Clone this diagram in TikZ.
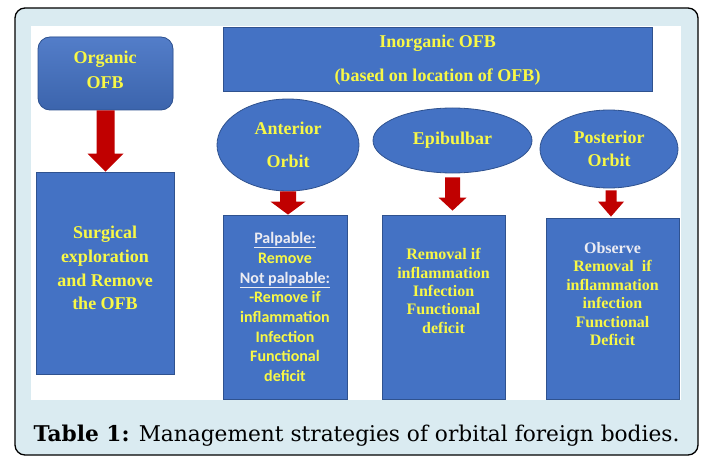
\documentclass[tikz,border=0pt]{standalone}
\usepackage{fontspec}
\setmainfont{Liberation Serif}
\newfontfamily\calibrifont{Carlito}
\newfontfamily\timesfont{Liberation Serif}
\newfontfamily\captionfont{DejaVu Serif}
\usetikzlibrary{shapes.geometric,calc}
\definecolor{boxblue}{HTML}{4472C4}
\definecolor{boxedge}{HTML}{2F528F}
\definecolor{txtyellow}{RGB}{248,248,70}
\definecolor{txtwhite}{RGB}{236,236,242}
\definecolor{framebg}{HTML}{DAEBF1}
\definecolor{arrowred}{HTML}{C00000}
\newcommand\blockarrow[5]{%
  \fill[arrowred] let \p1=(#1), \p2=(#2) in
  (\x1-#3pt,\y1) -- (\x1+#3pt,\y1) -- (\x1+#3pt,\y2+#5pt) -- (\x1+#4pt,\y2+#5pt)
  -- (\x1,\y2) -- (\x1-#4pt,\y2+#5pt) -- (\x1-#3pt,\y2+#5pt) -- cycle;}
\begin{document}
\begin{tikzpicture}[x=1pt,y=-1pt,
  bluebox/.style={draw=boxedge, line width=0.8pt, fill=boxblue, inner sep=0pt},
  blueoval/.style={ellipse, draw=boxedge, line width=0.8pt, fill=boxblue, inner sep=0pt,
    text=txtyellow, font=\timesfont\bfseries\fontsize{18}{23}\selectfont, align=center},
  boxtext/.style={text=txtyellow, align=center, inner sep=0pt},
]
\useasboundingbox (0,0) rectangle (703,457);
\draw[line width=1.3pt, fill=framebg, rounded corners=10pt] (15,8) rectangle (698,455);
\fill[white] (31,26) rectangle (681,400);

% left column
\node[bluebox, rounded corners=12pt, top color=boxblue!92!white, bottom color=boxblue!88!black,
  minimum width=135pt, minimum height=73pt] (org) at (105.5,73.5) {};
\node[boxtext, font=\timesfont\bfseries\fontsize{18}{25}\selectfont] (orgt) at (105,70) {Organic\\OFB};
\node[bluebox, minimum width=138pt, minimum height=202pt] (surg) at (105,273) {};
\node[boxtext, font=\timesfont\bfseries\fontsize{18}{23.7}\selectfont] (surgt) at (105,268)
  {Surgical\\exploration\\and Remove\\the OFB};
\blockarrow{org.south}{surg.north}{9}{18}{18}

% inorganic header
\node[bluebox, minimum width=429pt, minimum height=64pt] (inorg) at (437.5,59) {};
\node[boxtext, font=\timesfont\bfseries\fontsize{18}{34}\selectfont] (inorgt) at (437.5,60)
  {Inorganic OFB\\(based on location of OFB)};

% ovals
\node[blueoval, minimum width=142pt, minimum height=92pt] (ant) at (288,145)
  {Anterior\\[10pt]Orbit};
\node[blueoval, minimum width=159pt, minimum height=65pt] (epi) at (452.5,140.5)
  {Epibulbar};
\node[blueoval, minimum width=138pt, minimum height=78pt] (post) at (609,149)
  {Posterior\\Orbit};

% lower boxes
\node[bluebox, minimum width=124pt, minimum height=184pt] (antbox) at (285,307) {};
\node[boxtext, font=\calibrifont\bfseries\fontsize{16}{19.7}\selectfont] (antt) at (285,307)
  {\textcolor{txtwhite}{\underline{Palpable:}}\\Remove\\\textcolor{txtwhite}{\underline{Not palpable:}}\\-Remove if\\inflammation\\Infection\\Functional\\deficit};
\node[bluebox, minimum width=123pt, minimum height=184pt] (epibox) at (443.5,307) {};
\node[boxtext, font=\timesfont\bfseries\fontsize{16}{18.3}\selectfont] (epit) at (443.5,291)
  {Removal if\\inflammation\\Infection\\Functional\\deficit};
\node[bluebox, minimum width=133pt, minimum height=181pt] (postbox) at (612.5,308.5) {};
\node[boxtext, font=\timesfont\bfseries\fontsize{16}{18.4}\selectfont] (postt) at (612.5,294)
  {\textcolor{txtwhite}{Observe}\\Removal\ \ if\\inflammation\\infection\\Functional\\Deficit};

% arrows
\coordinate (a2s) at (ant.south);
\coordinate (a2e) at (antbox.north);
\blockarrow{a2s}{a2e}{8}{17.5}{13}
\coordinate (a3s) at ($(epi.south)+(0,4)$);
\coordinate (a3e) at ($(epibox.north)+(0,-4)$);
\blockarrow{a3s}{a3e}{7.5}{14}{13}
\coordinate (a4s) at ($(post.south)+(2,2)$);
\coordinate (a4e) at ($(postbox.north)+(0,-1)$);
\blockarrow{a4s}{a4e}{5.5}{13}{15}

% caption
\node[anchor=base, inner sep=0pt, font=\captionfont\fontsize{21.7}{26}\selectfont] (cap) at (356.5,441)
  {\textbf{Table 1:} Management strategies of orbital foreign bodies.};
\end{tikzpicture}
\end{document}
